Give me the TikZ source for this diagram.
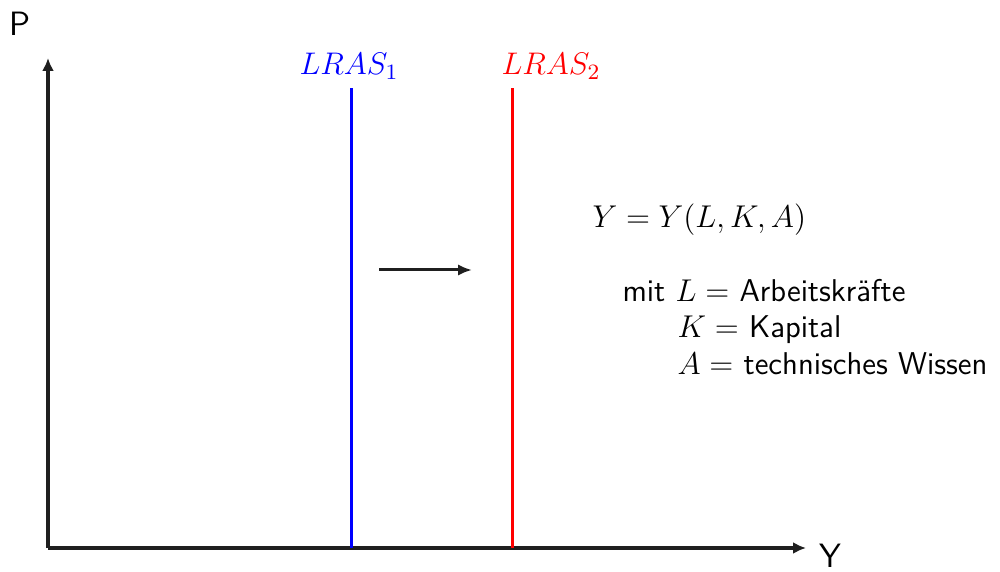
\RequirePackage{fix-cm}
\documentclass[tikz,border=0pt]{standalone}
\usepackage{amsmath}
\usepackage{xcolor}
\usetikzlibrary{arrows.meta}
\renewcommand{\familydefault}{\sfdefault}

\begin{document}
\begin{tikzpicture}[x=0.4pt,y=-0.4pt,
  axis/.style={line width=1.6pt,-{Latex[length=5.2pt,width=4.8pt]},black!88},
  lras/.style={line width=1.2pt},
  shiftarr/.style={line width=1.2pt,-{Latex[length=5.6pt,width=4.6pt]},black!88},
  lbl/.style={font=\fontsize{12.5}{15}\selectfont},
  txt/.style={font=\fontsize{12.6}{15}\selectfont,anchor=base west,inner sep=0pt}]
  \useasboundingbox (0,0) rectangle (1000,572);
  % Achsen
  \coordinate (O) at (48,548);
  \coordinate (ytop) at (48,58);
  \coordinate (xend) at (806,548);
  \draw[axis] (O) -- (ytop);
  \draw[axis] (O) -- (xend);
  \node[lbl,font=\fontsize{13.5}{15}\selectfont,inner sep=1pt] (P) at (20,24) {P};
  \node[lbl,font=\fontsize{13.5}{15}\selectfont,inner sep=1pt] (Y) at (830,556) {Y};
  % LRAS-Kurven
  \coordinate (b1) at (351,548);
  \coordinate (t1) at (351,88);
  \coordinate (b2) at (512,548);
  \coordinate (t2) at (512,88);
  \draw[lras,blue] (b1) -- (t1);
  \draw[lras,red] (b2) -- (t2);
  \node[lbl,blue] (l1) at (349,66) {$LRAS_1$};
  \node[lbl,red] (l2) at (551,66) {$LRAS_2$};
  % Verschiebung
  \coordinate (s1) at (379,270);
  \coordinate (s2) at (472,270);
  \draw[shiftarr] (s1) -- (s2);
  % Produktionsfunktion
  \node[txt] (pf) at (592,228) {$Y = Y(L,K,A)$};
  \node[txt] (mL) at (622,302) {mit $L =$ Arbeitskräfte};
  \node[txt] (mK) at (677,338) {$K =$ Kapital};
  \node[txt] (mA) at (677,375) {$A =$ technisches Wissen};
\end{tikzpicture}
\end{document}
